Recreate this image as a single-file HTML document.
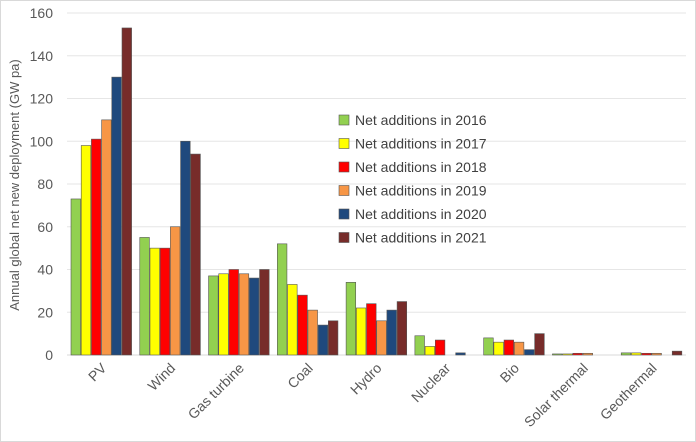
<!DOCTYPE html>
<html><head><meta charset="utf-8"><style>
body{margin:0;background:#fff;}
svg{display:block;font-family:"Liberation Sans",sans-serif;}
</style></head><body>
<svg id="chart" width="696" height="442">
<rect x="0.5" y="0.5" width="695" height="441" fill="#fff" stroke="#d9d9d9"/>
<g id="grid"></g><g id="bars"></g><g id="labels"></g><g id="legend"></g>
<text transform="translate(19,185) rotate(-90)" text-anchor="middle" font-size="13" fill="#595959">Annual global net new deployment (GW pa)</text>
</svg>
<script>
const categories=["PV","Wind","Gas turbine","Coal","Hydro","Nuclear","Bio","Solar thermal","Geothermal"];
const seriesNames=["Net additions in 2016","Net additions in 2017","Net additions in 2018","Net additions in 2019","Net additions in 2020","Net additions in 2021"];
const s2016=[73,55,37,52,34,9,8,0.5,1];
const s2017=[98,50,38,33,22,4,6,0.5,1];
const s2018=[101,50,40,28,24,7,7,0.8,0.8];
const s2019=[110,60,38,21,16,0,6,0.8,0.8];
const s2020=[130,100,36,14,21,1,2.5,0,0];
const s2021=[153,94,40,16,25,0,10,0,1.8];
const yTicks=[0,20,40,60,80,100,120,140,160];
const series=[s2016,s2017,s2018,s2019,s2020,s2021];
const colors=["#92d050","#ffff00","#ff0000","#f79646","#1f497d","#772c2a"];
const ns="http://www.w3.org/2000/svg";
const L=67,R=686,T=13,B=355,yMax=160;
const y=v=>B-(v/yMax)*(B-T);
const cw=(R-L)/categories.length;
const x=(ci,si)=>L+ci*cw+4+si*10.2;
function mk(t,a,p){const e=document.createElementNS(ns,t);for(const k in a)e.setAttribute(k,a[k]);p.appendChild(e);return e;}
const grid=document.getElementById('grid');
yTicks.forEach(t=>{
 const l=mk('line',{x1:L,x2:R,y1:y(t),y2:y(t),stroke:t===0?'#d9d9d9':'#e6e6e6','stroke-width':1},grid);
 
 
 const tx=mk('text',{x:53,y:y(t)+5,'text-anchor':'end','font-size':14,fill:'#595959'},grid);
 tx.textContent=t;
 
 
});
const bars=document.getElementById('bars');
series.forEach((s,si)=>s.forEach((v,ci)=>{
 if(v<=0)return;
 const r=mk('rect',{x:x(ci,si),y:y(v),width:9.6,height:B-y(v),fill:colors[si],stroke:'#555','stroke-width':0.6},bars);
 
 
}));
const labels=document.getElementById('labels');
categories.forEach((c,ci)=>{
 const cx=L+ci*cw+cw/2+6, cy=B+14;
 const t=mk('text',{x:cx,y:cy,'text-anchor':'end','font-size':14,fill:'#595959',transform:`rotate(-45 ${cx} ${cy})`},labels);
 t.textContent=c;
 
 
});
const lg=document.getElementById('legend');
seriesNames.forEach((n,i)=>{
 const g=mk('g',{},lg);
 
 
 const yy=120+i*23.5;
 mk('rect',{x:339,y:yy-5,width:10,height:10,fill:colors[i],stroke:'#555','stroke-width':0.6},g);
 const t=mk('text',{x:355,y:yy+5,'font-size':14,fill:'#404040'},g);
 t.textContent=n;
});
</script>
</body></html>
